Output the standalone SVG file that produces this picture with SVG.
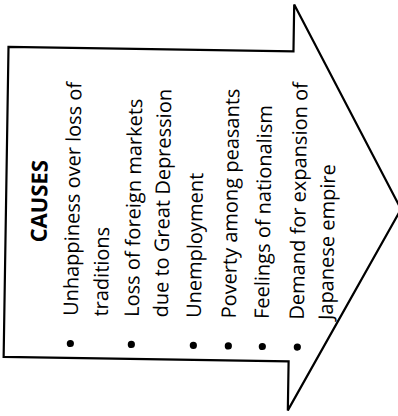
<svg xmlns="http://www.w3.org/2000/svg" width="398" height="416" viewBox="0 0 398 416">
<style>
.t{font-family:"Open Sans","Noto Sans","Liberation Sans",sans-serif;font-size:20px;fill:#000}
.h{font-weight:bold;font-size:22px}
.arrow{fill:#fff;stroke:#000;stroke-width:2.2;stroke-linejoin:miter}
.b{fill:#000}
</style>
<rect width="398" height="416" fill="#fff"/>
<g transform="rotate(0.9 200 208)">
  <g id="arrow">
    <polygon class="arrow" points="6,50 291,50 291,3 401,206 291,409 291,360 6,360"/>
  </g>
  <g id="heading">
    <text class="t h" transform="translate(47 245) rotate(-90)">CAUSES</text>
  </g>
  <g id="item1">
    <circle class="b" cx="72.5" cy="345.5" r="3.6"/>
    <text class="t" transform="translate(79.5 318) rotate(-90)">Unhappiness over loss of</text>
    <text class="t" transform="translate(109.5 318) rotate(-90)">traditions</text>
  </g>
  <g id="item2">
    <circle class="b" cx="133.5" cy="345.5" r="3.6"/>
    <text class="t" transform="translate(140.5 318) rotate(-90)">Loss of foreign markets</text>
    <text class="t" transform="translate(169.5 318) rotate(-90)">due to Great Depression</text>
  </g>
  <g id="item3">
    <circle class="b" cx="195.5" cy="345.5" r="3.6"/>
    <text class="t" transform="translate(202.5 318) rotate(-90)">Unemployment</text>
  </g>
  <g id="item4">
    <circle class="b" cx="230.5" cy="345.5" r="3.6"/>
    <text class="t" transform="translate(237.5 318) rotate(-90)">Poverty among peasants</text>
  </g>
  <g id="item5">
    <circle class="b" cx="264.5" cy="345.5" r="3.6"/>
    <text class="t" transform="translate(270.5 318) rotate(-90)">Feelings of nationalism</text>
  </g>
  <g id="item6">
    <circle class="b" cx="299.5" cy="345.5" r="3.6"/>
    <text class="t" transform="translate(305.5 318) rotate(-90)">Demand for expansion of</text>
    <text class="t" transform="translate(334.5 318) rotate(-90)">Japanese empire</text>
  </g>
</g>
</svg>
